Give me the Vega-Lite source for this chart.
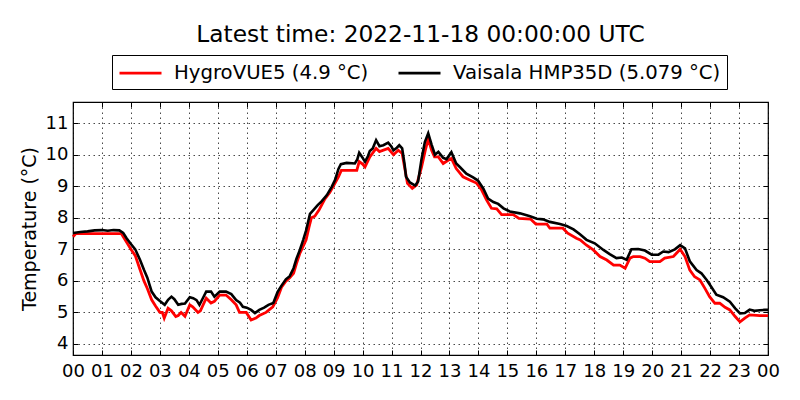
{
  "$schema": "https://vega.github.io/schema/vega-lite/v6.json",
  "width": 695,
  "height": 253,
  "autosize": {"type": "none"},
  "padding": {"left": 73, "top": 102, "right": 32, "bottom": 45},
  "background": "white",
  "title": {
    "text": "Latest time: 2022-11-18 00:00:00 UTC",
    "font": "DejaVu Sans",
    "fontSize": 23.3,
    "fontWeight": "normal",
    "color": "black",
    "anchor": "middle",
    "offset": 7
  },
  "config": {
    "font": "DejaVu Sans",
    "view": {"stroke": "black", "strokeWidth": 1.2},
    "axis": {
      "labelFont": "DejaVu Sans",
      "labelFontSize": 18,
      "labelColor": "black",
      "titleFont": "DejaVu Sans",
      "titleFontSize": 19,
      "titleFontWeight": "normal",
      "titleColor": "black",
      "tickColor": "black",
      "tickSize": -5,
      "tickWidth": 1,
      "domain": false,
      "gridColor": "black",
      "gridDash": [1.5, 3.5],
      "gridWidth": 0.8,
      "gridOpacity": 0.9,
      "labelOverlap": false,
      "labelFlush": false
    },
    "legend": {
      "labelFont": "DejaVu Sans",
      "labelFontSize": 19.7,
      "labelColor": "black",
      "labelLimit": 400
    }
  },
  "datasets": {
    "hygro": [
      {"t": "2022-11-17T00:00:00Z", "v": 7.4},
      {"t": "2022-11-17T00:06:00Z", "v": 7.5},
      {"t": "2022-11-17T00:45:00Z", "v": 7.5},
      {"t": "2022-11-17T01:00:00Z", "v": 7.5},
      {"t": "2022-11-17T01:40:00Z", "v": 7.5},
      {"t": "2022-11-17T01:48:00Z", "v": 7.3},
      {"t": "2022-11-17T02:00:00Z", "v": 7.0},
      {"t": "2022-11-17T02:09:00Z", "v": 6.8},
      {"t": "2022-11-17T02:19:00Z", "v": 6.35},
      {"t": "2022-11-17T02:27:00Z", "v": 6.0},
      {"t": "2022-11-17T02:34:00Z", "v": 5.76},
      {"t": "2022-11-17T02:43:00Z", "v": 5.4},
      {"t": "2022-11-17T02:51:00Z", "v": 5.2},
      {"t": "2022-11-17T03:00:00Z", "v": 5.0},
      {"t": "2022-11-17T03:05:00Z", "v": 5.0},
      {"t": "2022-11-17T03:09:00Z", "v": 4.82},
      {"t": "2022-11-17T03:17:00Z", "v": 5.13},
      {"t": "2022-11-17T03:24:00Z", "v": 5.05},
      {"t": "2022-11-17T03:33:00Z", "v": 4.87},
      {"t": "2022-11-17T03:38:00Z", "v": 4.9},
      {"t": "2022-11-17T03:44:00Z", "v": 5.0},
      {"t": "2022-11-17T03:52:00Z", "v": 4.88},
      {"t": "2022-11-17T04:02:00Z", "v": 5.24},
      {"t": "2022-11-17T04:08:00Z", "v": 5.18},
      {"t": "2022-11-17T04:19:00Z", "v": 5.0},
      {"t": "2022-11-17T04:24:00Z", "v": 5.05},
      {"t": "2022-11-17T04:36:00Z", "v": 5.45},
      {"t": "2022-11-17T04:46:00Z", "v": 5.3},
      {"t": "2022-11-17T04:53:00Z", "v": 5.35},
      {"t": "2022-11-17T05:04:00Z", "v": 5.55},
      {"t": "2022-11-17T05:17:00Z", "v": 5.55},
      {"t": "2022-11-17T05:28:00Z", "v": 5.4},
      {"t": "2022-11-17T05:38:00Z", "v": 5.24},
      {"t": "2022-11-17T05:45:00Z", "v": 5.0},
      {"t": "2022-11-17T05:59:00Z", "v": 5.0},
      {"t": "2022-11-17T06:09:00Z", "v": 4.76},
      {"t": "2022-11-17T06:19:00Z", "v": 4.82},
      {"t": "2022-11-17T06:26:00Z", "v": 4.9},
      {"t": "2022-11-17T06:40:00Z", "v": 5.0},
      {"t": "2022-11-17T06:54:00Z", "v": 5.18},
      {"t": "2022-11-17T07:04:00Z", "v": 5.47},
      {"t": "2022-11-17T07:12:00Z", "v": 5.8},
      {"t": "2022-11-17T07:20:00Z", "v": 5.97},
      {"t": "2022-11-17T07:29:00Z", "v": 6.1},
      {"t": "2022-11-17T07:37:00Z", "v": 6.24},
      {"t": "2022-11-17T07:43:00Z", "v": 6.55},
      {"t": "2022-11-17T07:50:00Z", "v": 6.87},
      {"t": "2022-11-17T07:57:00Z", "v": 7.1},
      {"t": "2022-11-17T08:03:00Z", "v": 7.3},
      {"t": "2022-11-17T08:09:00Z", "v": 7.7},
      {"t": "2022-11-17T08:14:00Z", "v": 8.0},
      {"t": "2022-11-17T08:21:00Z", "v": 8.05},
      {"t": "2022-11-17T08:30:00Z", "v": 8.25},
      {"t": "2022-11-17T08:42:00Z", "v": 8.6},
      {"t": "2022-11-17T08:52:00Z", "v": 8.8},
      {"t": "2022-11-17T09:03:00Z", "v": 9.1},
      {"t": "2022-11-17T09:10:00Z", "v": 9.3},
      {"t": "2022-11-17T09:16:00Z", "v": 9.5},
      {"t": "2022-11-17T09:48:00Z", "v": 9.5},
      {"t": "2022-11-17T09:53:00Z", "v": 9.78},
      {"t": "2022-11-17T10:00:00Z", "v": 9.7},
      {"t": "2022-11-17T10:05:00Z", "v": 9.61},
      {"t": "2022-11-17T10:15:00Z", "v": 9.93},
      {"t": "2022-11-17T10:28:00Z", "v": 10.2},
      {"t": "2022-11-17T10:35:00Z", "v": 10.1},
      {"t": "2022-11-17T10:53:00Z", "v": 10.2},
      {"t": "2022-11-17T11:04:00Z", "v": 10.0},
      {"t": "2022-11-17T11:14:00Z", "v": 10.14},
      {"t": "2022-11-17T11:22:00Z", "v": 10.04},
      {"t": "2022-11-17T11:27:00Z", "v": 9.6},
      {"t": "2022-11-17T11:33:00Z", "v": 9.09},
      {"t": "2022-11-17T11:43:00Z", "v": 8.93},
      {"t": "2022-11-17T11:52:00Z", "v": 9.04},
      {"t": "2022-11-17T12:02:00Z", "v": 9.6},
      {"t": "2022-11-17T12:10:00Z", "v": 10.14},
      {"t": "2022-11-17T12:16:00Z", "v": 10.5},
      {"t": "2022-11-17T12:23:00Z", "v": 10.14},
      {"t": "2022-11-17T12:29:00Z", "v": 9.93},
      {"t": "2022-11-17T12:37:00Z", "v": 9.93},
      {"t": "2022-11-17T12:47:00Z", "v": 9.72},
      {"t": "2022-11-17T12:58:00Z", "v": 9.83},
      {"t": "2022-11-17T13:04:00Z", "v": 9.88},
      {"t": "2022-11-17T13:14:00Z", "v": 9.56},
      {"t": "2022-11-17T13:28:00Z", "v": 9.3},
      {"t": "2022-11-17T13:42:00Z", "v": 9.2},
      {"t": "2022-11-17T13:56:00Z", "v": 9.1},
      {"t": "2022-11-17T14:06:00Z", "v": 8.9},
      {"t": "2022-11-17T14:17:00Z", "v": 8.56},
      {"t": "2022-11-17T14:27:00Z", "v": 8.3},
      {"t": "2022-11-17T14:38:00Z", "v": 8.28},
      {"t": "2022-11-17T14:48:00Z", "v": 8.1},
      {"t": "2022-11-17T15:12:00Z", "v": 8.1},
      {"t": "2022-11-17T15:24:00Z", "v": 7.98},
      {"t": "2022-11-17T15:48:00Z", "v": 7.96},
      {"t": "2022-11-17T15:59:00Z", "v": 7.8},
      {"t": "2022-11-17T16:22:00Z", "v": 7.8},
      {"t": "2022-11-17T16:28:00Z", "v": 7.67},
      {"t": "2022-11-17T16:55:00Z", "v": 7.67},
      {"t": "2022-11-17T17:05:00Z", "v": 7.51},
      {"t": "2022-11-17T17:23:00Z", "v": 7.35},
      {"t": "2022-11-17T17:31:00Z", "v": 7.3},
      {"t": "2022-11-17T17:44:00Z", "v": 7.13},
      {"t": "2022-11-17T17:58:00Z", "v": 6.98},
      {"t": "2022-11-17T18:12:00Z", "v": 6.77},
      {"t": "2022-11-17T18:26:00Z", "v": 6.66},
      {"t": "2022-11-17T18:40:00Z", "v": 6.5},
      {"t": "2022-11-17T18:53:00Z", "v": 6.5},
      {"t": "2022-11-17T19:04:00Z", "v": 6.4},
      {"t": "2022-11-17T19:14:00Z", "v": 6.72},
      {"t": "2022-11-17T19:21:00Z", "v": 6.77},
      {"t": "2022-11-17T19:35:00Z", "v": 6.77},
      {"t": "2022-11-17T19:45:00Z", "v": 6.72},
      {"t": "2022-11-17T19:55:00Z", "v": 6.61},
      {"t": "2022-11-17T20:16:00Z", "v": 6.61},
      {"t": "2022-11-17T20:26:00Z", "v": 6.72},
      {"t": "2022-11-17T20:44:00Z", "v": 6.77},
      {"t": "2022-11-17T20:58:00Z", "v": 7.0},
      {"t": "2022-11-17T21:08:00Z", "v": 6.77},
      {"t": "2022-11-17T21:18:00Z", "v": 6.34},
      {"t": "2022-11-17T21:28:00Z", "v": 6.13},
      {"t": "2022-11-17T21:39:00Z", "v": 6.03},
      {"t": "2022-11-17T21:49:00Z", "v": 5.77},
      {"t": "2022-11-17T21:59:00Z", "v": 5.5},
      {"t": "2022-11-17T22:10:00Z", "v": 5.29},
      {"t": "2022-11-17T22:20:00Z", "v": 5.29},
      {"t": "2022-11-17T22:31:00Z", "v": 5.16},
      {"t": "2022-11-17T22:41:00Z", "v": 5.08},
      {"t": "2022-11-17T22:52:00Z", "v": 4.87},
      {"t": "2022-11-17T23:02:00Z", "v": 4.7},
      {"t": "2022-11-17T23:12:00Z", "v": 4.82},
      {"t": "2022-11-17T23:22:00Z", "v": 4.92},
      {"t": "2022-11-17T23:43:00Z", "v": 4.9},
      {"t": "2022-11-18T00:00:00Z", "v": 4.9}
    ],
    "vaisala": [
      {"t": "2022-11-17T00:00:00Z", "v": 7.52},
      {"t": "2022-11-17T00:15:00Z", "v": 7.55},
      {"t": "2022-11-17T00:30:00Z", "v": 7.57},
      {"t": "2022-11-17T00:45:00Z", "v": 7.6},
      {"t": "2022-11-17T01:00:00Z", "v": 7.61},
      {"t": "2022-11-17T01:12:00Z", "v": 7.59},
      {"t": "2022-11-17T01:24:00Z", "v": 7.61},
      {"t": "2022-11-17T01:36:00Z", "v": 7.6},
      {"t": "2022-11-17T01:44:00Z", "v": 7.52},
      {"t": "2022-11-17T01:51:00Z", "v": 7.35},
      {"t": "2022-11-17T02:00:00Z", "v": 7.17},
      {"t": "2022-11-17T02:09:00Z", "v": 7.0},
      {"t": "2022-11-17T02:19:00Z", "v": 6.66},
      {"t": "2022-11-17T02:27:00Z", "v": 6.35},
      {"t": "2022-11-17T02:34:00Z", "v": 6.1},
      {"t": "2022-11-17T02:43:00Z", "v": 5.66},
      {"t": "2022-11-17T02:51:00Z", "v": 5.48},
      {"t": "2022-11-17T03:00:00Z", "v": 5.36},
      {"t": "2022-11-17T03:10:00Z", "v": 5.24},
      {"t": "2022-11-17T03:17:00Z", "v": 5.4},
      {"t": "2022-11-17T03:24:00Z", "v": 5.5},
      {"t": "2022-11-17T03:30:00Z", "v": 5.42},
      {"t": "2022-11-17T03:38:00Z", "v": 5.24},
      {"t": "2022-11-17T03:45:00Z", "v": 5.27},
      {"t": "2022-11-17T03:52:00Z", "v": 5.28},
      {"t": "2022-11-17T04:02:00Z", "v": 5.48},
      {"t": "2022-11-17T04:09:00Z", "v": 5.45},
      {"t": "2022-11-17T04:16:00Z", "v": 5.39},
      {"t": "2022-11-17T04:22:00Z", "v": 5.24},
      {"t": "2022-11-17T04:29:00Z", "v": 5.45},
      {"t": "2022-11-17T04:36:00Z", "v": 5.66},
      {"t": "2022-11-17T04:46:00Z", "v": 5.66},
      {"t": "2022-11-17T04:53:00Z", "v": 5.5},
      {"t": "2022-11-17T05:04:00Z", "v": 5.66},
      {"t": "2022-11-17T05:17:00Z", "v": 5.66},
      {"t": "2022-11-17T05:28:00Z", "v": 5.58},
      {"t": "2022-11-17T05:38:00Z", "v": 5.39},
      {"t": "2022-11-17T05:46:00Z", "v": 5.31},
      {"t": "2022-11-17T05:52:00Z", "v": 5.18},
      {"t": "2022-11-17T06:00:00Z", "v": 5.15},
      {"t": "2022-11-17T06:09:00Z", "v": 5.08},
      {"t": "2022-11-17T06:17:00Z", "v": 4.98},
      {"t": "2022-11-17T06:26:00Z", "v": 5.08},
      {"t": "2022-11-17T06:36:00Z", "v": 5.15},
      {"t": "2022-11-17T06:45:00Z", "v": 5.24},
      {"t": "2022-11-17T06:55:00Z", "v": 5.3},
      {"t": "2022-11-17T07:04:00Z", "v": 5.65},
      {"t": "2022-11-17T07:12:00Z", "v": 5.85},
      {"t": "2022-11-17T07:21:00Z", "v": 6.05},
      {"t": "2022-11-17T07:29:00Z", "v": 6.15},
      {"t": "2022-11-17T07:37:00Z", "v": 6.4},
      {"t": "2022-11-17T07:43:00Z", "v": 6.7},
      {"t": "2022-11-17T07:50:00Z", "v": 6.98},
      {"t": "2022-11-17T07:57:00Z", "v": 7.3},
      {"t": "2022-11-17T08:03:00Z", "v": 7.6},
      {"t": "2022-11-17T08:11:00Z", "v": 8.12},
      {"t": "2022-11-17T08:18:00Z", "v": 8.24},
      {"t": "2022-11-17T08:27:00Z", "v": 8.4},
      {"t": "2022-11-17T08:35:00Z", "v": 8.52},
      {"t": "2022-11-17T08:46:00Z", "v": 8.72},
      {"t": "2022-11-17T08:56:00Z", "v": 8.98},
      {"t": "2022-11-17T09:03:00Z", "v": 9.2},
      {"t": "2022-11-17T09:10:00Z", "v": 9.55},
      {"t": "2022-11-17T09:15:00Z", "v": 9.7},
      {"t": "2022-11-17T09:27:00Z", "v": 9.74},
      {"t": "2022-11-17T09:44:00Z", "v": 9.72},
      {"t": "2022-11-17T09:49:00Z", "v": 9.85},
      {"t": "2022-11-17T09:53:00Z", "v": 10.06},
      {"t": "2022-11-17T10:00:00Z", "v": 9.9},
      {"t": "2022-11-17T10:05:00Z", "v": 9.78},
      {"t": "2022-11-17T10:11:00Z", "v": 9.95},
      {"t": "2022-11-17T10:15:00Z", "v": 10.12},
      {"t": "2022-11-17T10:21:00Z", "v": 10.2},
      {"t": "2022-11-17T10:28:00Z", "v": 10.46},
      {"t": "2022-11-17T10:35:00Z", "v": 10.27},
      {"t": "2022-11-17T10:43:00Z", "v": 10.3},
      {"t": "2022-11-17T10:53:00Z", "v": 10.38},
      {"t": "2022-11-17T11:00:00Z", "v": 10.25},
      {"t": "2022-11-17T11:04:00Z", "v": 10.14},
      {"t": "2022-11-17T11:11:00Z", "v": 10.22},
      {"t": "2022-11-17T11:16:00Z", "v": 10.3},
      {"t": "2022-11-17T11:22:00Z", "v": 10.2},
      {"t": "2022-11-17T11:27:00Z", "v": 9.7},
      {"t": "2022-11-17T11:30:00Z", "v": 9.3},
      {"t": "2022-11-17T11:38:00Z", "v": 9.12},
      {"t": "2022-11-17T11:49:00Z", "v": 9.02},
      {"t": "2022-11-17T11:55:00Z", "v": 9.15},
      {"t": "2022-11-17T12:02:00Z", "v": 9.85},
      {"t": "2022-11-17T12:09:00Z", "v": 10.4},
      {"t": "2022-11-17T12:16:00Z", "v": 10.68},
      {"t": "2022-11-17T12:23:00Z", "v": 10.32},
      {"t": "2022-11-17T12:30:00Z", "v": 10.0},
      {"t": "2022-11-17T12:37:00Z", "v": 10.09},
      {"t": "2022-11-17T12:47:00Z", "v": 9.9},
      {"t": "2022-11-17T12:54:00Z", "v": 9.86},
      {"t": "2022-11-17T13:04:00Z", "v": 10.08},
      {"t": "2022-11-17T13:14:00Z", "v": 9.72},
      {"t": "2022-11-17T13:22:00Z", "v": 9.6},
      {"t": "2022-11-17T13:35:00Z", "v": 9.4},
      {"t": "2022-11-17T13:49:00Z", "v": 9.28},
      {"t": "2022-11-17T13:59:00Z", "v": 9.18},
      {"t": "2022-11-17T14:10:00Z", "v": 8.93},
      {"t": "2022-11-17T14:20:00Z", "v": 8.61},
      {"t": "2022-11-17T14:31:00Z", "v": 8.5},
      {"t": "2022-11-17T14:41:00Z", "v": 8.44},
      {"t": "2022-11-17T14:52:00Z", "v": 8.3},
      {"t": "2022-11-17T15:05:00Z", "v": 8.2},
      {"t": "2022-11-17T15:26:00Z", "v": 8.14},
      {"t": "2022-11-17T15:47:00Z", "v": 8.05},
      {"t": "2022-11-17T16:01:00Z", "v": 7.97},
      {"t": "2022-11-17T16:14:00Z", "v": 7.95},
      {"t": "2022-11-17T16:28:00Z", "v": 7.87},
      {"t": "2022-11-17T16:49:00Z", "v": 7.8},
      {"t": "2022-11-17T17:03:00Z", "v": 7.74},
      {"t": "2022-11-17T17:17:00Z", "v": 7.63},
      {"t": "2022-11-17T17:31:00Z", "v": 7.47},
      {"t": "2022-11-17T17:44:00Z", "v": 7.3},
      {"t": "2022-11-17T18:01:00Z", "v": 7.19},
      {"t": "2022-11-17T18:19:00Z", "v": 6.98},
      {"t": "2022-11-17T18:32:00Z", "v": 6.85},
      {"t": "2022-11-17T18:46:00Z", "v": 6.72},
      {"t": "2022-11-17T18:57:00Z", "v": 6.74},
      {"t": "2022-11-17T19:07:00Z", "v": 6.67},
      {"t": "2022-11-17T19:17:00Z", "v": 7.0},
      {"t": "2022-11-17T19:31:00Z", "v": 7.01},
      {"t": "2022-11-17T19:45:00Z", "v": 6.96},
      {"t": "2022-11-17T19:59:00Z", "v": 6.83},
      {"t": "2022-11-17T20:13:00Z", "v": 6.83},
      {"t": "2022-11-17T20:23:00Z", "v": 6.93},
      {"t": "2022-11-17T20:34:00Z", "v": 6.91},
      {"t": "2022-11-17T20:47:00Z", "v": 7.0},
      {"t": "2022-11-17T20:58:00Z", "v": 7.13},
      {"t": "2022-11-17T21:08:00Z", "v": 7.03},
      {"t": "2022-11-17T21:18:00Z", "v": 6.62},
      {"t": "2022-11-17T21:32:00Z", "v": 6.34},
      {"t": "2022-11-17T21:42:00Z", "v": 6.24},
      {"t": "2022-11-17T21:53:00Z", "v": 6.03},
      {"t": "2022-11-17T22:03:00Z", "v": 5.8},
      {"t": "2022-11-17T22:13:00Z", "v": 5.56},
      {"t": "2022-11-17T22:27:00Z", "v": 5.48},
      {"t": "2022-11-17T22:41:00Z", "v": 5.34},
      {"t": "2022-11-17T22:52:00Z", "v": 5.13},
      {"t": "2022-11-17T23:02:00Z", "v": 4.97},
      {"t": "2022-11-17T23:12:00Z", "v": 4.98},
      {"t": "2022-11-17T23:22:00Z", "v": 5.09},
      {"t": "2022-11-17T23:32:00Z", "v": 5.05},
      {"t": "2022-11-17T23:43:00Z", "v": 5.07},
      {"t": "2022-11-17T23:53:00Z", "v": 5.08},
      {"t": "2022-11-18T00:00:00Z", "v": 5.079}
    ]
  },
  "resolve": {"axis": {"x": "independent", "y": "independent"}},
  "layer": [
    {
      "data": {"name": "hygro"},
      "mark": {"type": "line", "strokeWidth": 2.8},
      "encoding": {
        "x": {
          "field": "t",
          "type": "temporal",
          "scale": {"type": "utc"},
          "axis": {
            "title": null,
            "format": "%H",
            "tickCount": 24,
            "labelPadding": 12,
            "grid": true
          }
        },
        "y": {
          "field": "v",
          "type": "quantitative",
          "scale": {"domain": [3.65, 11.67], "nice": false, "zero": false},
          "axis": {
            "title": "Temperature (°C)",
            "values": [4, 5, 6, 7, 8, 9, 10, 11],
            "labelPadding": 10,
            "titlePadding": 6,
            "grid": true
          }
        },
        "color": {
          "datum": "HygroVUE5 (4.9 °C)",
          "type": "nominal",
          "scale": {
            "domain": ["HygroVUE5 (4.9 °C)", "Vaisala HMP35D (5.079 °C)"],
            "range": ["#ff0000", "#000000"]
          },
          "legend": {
            "title": null,
            "orient": "none",
            "direction": "horizontal",
            "legendX": 39,
            "legendY": -47,
            "symbolType": "M-1,0L3,0",
            "symbolSize": 441,
            "symbolStrokeWidth": 2.6,
            "labelOffset": 32,
            "columnPadding": 24,
            "padding": 6,
            "strokeColor": "black",
            "fillColor": "white"
          }
        }
      }
    },
    {
      "data": {"name": "vaisala"},
      "mark": {"type": "line", "strokeWidth": 2.6},
      "encoding": {
        "x": {"field": "t", "type": "temporal", "axis": null},
        "y": {"field": "v", "type": "quantitative", "axis": null},
        "color": {"datum": "Vaisala HMP35D (5.079 °C)", "type": "nominal"}
      }
    },
    {
      "data": {"name": "vaisala"},
      "mark": {"type": "line", "opacity": 0},
      "encoding": {
        "x": {
          "field": "t",
          "type": "temporal",
          "axis": {
            "orient": "top",
            "title": null,
            "labels": false,
            "grid": false,
            "tickCount": 24
          }
        },
        "y": {
          "field": "v",
          "type": "quantitative",
          "axis": {
            "orient": "right",
            "title": null,
            "labels": false,
            "grid": false,
            "values": [4, 5, 6, 7, 8, 9, 10, 11]
          }
        }
      }
    }
  ]
}
